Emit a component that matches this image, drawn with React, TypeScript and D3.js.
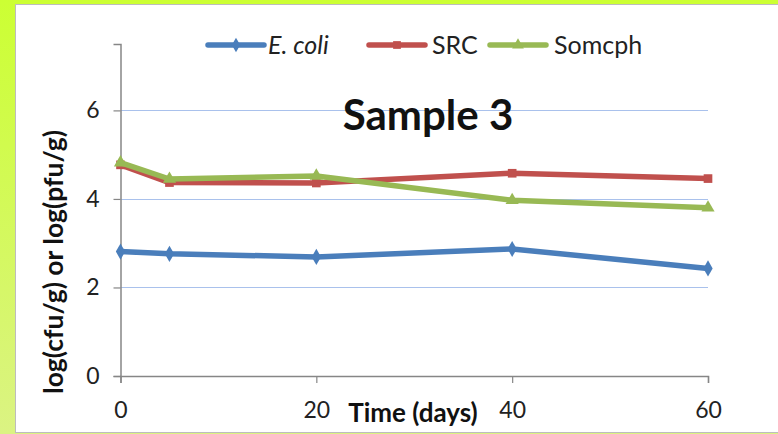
import React, { useEffect, useRef } from 'react'
import * as d3 from 'd3'

const days = [0, 5, 20, 40, 60]
const ecoli = [2.81, 2.76, 2.69, 2.87, 2.43]
const src = [4.77, 4.37, 4.36, 4.58, 4.46]
const somcph = [4.82, 4.45, 4.52, 3.97, 3.8]
const xTicks = [0, 20, 40, 60]
const yTicks = [0, 2, 4, 6]
const seriesNames = ['E. coli', 'SRC', 'Somcph']

const W = 778
const H = 434

export default function App() {
  const ref = useRef<SVGSVGElement>(null)

  useEffect(() => {
    const svg = d3.select(ref.current)
    svg.selectAll('*').remove()

    const font = 'Lato, "Open Sans", sans-serif'

    // lime frame
    const defs = svg.append('defs')
    const grad = defs.append('linearGradient')
      .attr('id', 'lime')
      .attr('x1', 0).attr('y1', 0).attr('x2', 0).attr('y2', 1)
    grad.append('stop').attr('offset', '0%').attr('stop-color', '#ccff33')
    grad.append('stop').attr('offset', '100%').attr('stop-color', '#dbf383')

    svg.append('rect').attr('width', W).attr('height', H).attr('fill', 'url(#lime)')
    svg.append('rect')
      .attr('x', 15.5).attr('y', 4.5)
      .attr('width', W).attr('height', 428)
      .attr('fill', '#fff').attr('stroke', '#bdbdbd')

    const x = d3.scaleLinear().domain([0, 60]).range([120.5, 708])
    const y = d3.scaleLinear().domain([0, 7.5]).range([376, 44])

    // grid
    svg.append('g')
      .selectAll('line')
      .data(yTicks.filter(d => d > 0))
      .enter().append('line')
      .attr('x1', x(0)).attr('x2', x(60))
      .attr('y1', d => Math.round(y(d)) + 0.5)
      .attr('y2', d => Math.round(y(d)) + 0.5)
      .attr('stroke', '#a9c1ec').attr('stroke-width', 1.2)

    // axes
    const yAxis = svg.append('g')
      .attr('transform', `translate(${x(0)},0)`)
      .call(d3.axisLeft(y).tickValues(yTicks).tickSize(7).tickPadding(14).tickFormat(d3.format('d')))
    const xAxis = svg.append('g')
      .attr('transform', `translate(0,${y(0)})`)
      .call(d3.axisBottom(x).tickValues(xTicks).tickSize(7).tickPadding(19).tickFormat(d3.format('d')))
    ;[xAxis, yAxis].forEach(a => {
      a.select('.domain').attr('stroke', '#868686').attr('stroke-width', 1.5)
      a.selectAll('.tick line').attr('stroke', '#868686').attr('stroke-width', 1.2)
      a.selectAll('text').attr('font-family', font).attr('font-size', 23).attr('fill', '#222')
    })

    // series
    const series = [
      { name: seriesNames[0], values: ecoli, color: '#4a7ebb', marker: d3.symbolDiamond },
      { name: seriesNames[1], values: src, color: '#c0504d', marker: d3.symbolSquare },
      { name: seriesNames[2], values: somcph, color: '#98b954', marker: d3.symbolTriangle },
    ]

    const line = d3.line<number>()
      .x((d, i) => x(days[i]))
      .y(d => y(d))

    series.forEach(s => {
      svg.append('path')
        .datum(s.values)
        .attr('d', line)
        .attr('fill', 'none')
        .attr('stroke', s.color)
        .attr('stroke-width', 5.5)
        .attr('stroke-linejoin', 'round')
      svg.append('g')
        .selectAll('path')
        .data(s.values)
        .enter().append('path')
        .attr('d', d3.symbol().type(s.marker).size(75))
        .attr('transform', (d, i) => `translate(${x(days[i])},${y(d)})`)
        .attr('fill', s.color)
    })

    // legend
    const legend = [
      { x: 208, tx: 268, italic: true },
      { x: 369, tx: 432, italic: false },
      { x: 490, tx: 554, italic: false },
    ]
    legend.forEach((l, i) => {
      const s = series[i]
      svg.append('line')
        .attr('x1', l.x).attr('x2', l.x + 56)
        .attr('y1', 45).attr('y2', 45)
        .attr('stroke', s.color).attr('stroke-width', 5.5)
        .attr('stroke-linecap', 'round')
      svg.append('path')
        .attr('d', d3.symbol().type(s.marker).size(60))
        .attr('transform', `translate(${l.x + 28},45)`)
        .attr('fill', s.color)
      svg.append('text')
        .attr('x', l.tx).attr('y', 54)
        .attr('font-family', font).attr('font-size', 25)
        .attr('font-style', l.italic ? 'italic' : 'normal')
        .attr('fill', '#222')
        .text(s.name)
    })

    // title
    svg.append('text')
      .attr('x', 428).attr('y', 130)
      .attr('text-anchor', 'middle')
      .attr('font-family', font).attr('font-size', 42).attr('font-weight', 'bold')
      .attr('fill', '#111')
      .text('Sample 3')

    // axis titles
    svg.append('text')
      .attr('x', 413).attr('y', 422)
      .attr('text-anchor', 'middle')
      .attr('font-family', font).attr('font-size', 26).attr('font-weight', 'bold')
      .attr('fill', '#111')
      .text('Time (days)')

    svg.append('text')
      .attr('transform', 'translate(63,262) rotate(-90)')
      .attr('text-anchor', 'middle')
      .attr('font-family', font).attr('font-size', 26.5).attr('font-weight', 'bold')
      .attr('fill', '#111')
      .text('log(cfu/g) or log(pfu/g)')
  }, [])

  return (
    <svg ref={ref} width={W} height={H}
      style={{ position: 'absolute', left: 0, top: 0, display: 'block' }} />
  )
}
